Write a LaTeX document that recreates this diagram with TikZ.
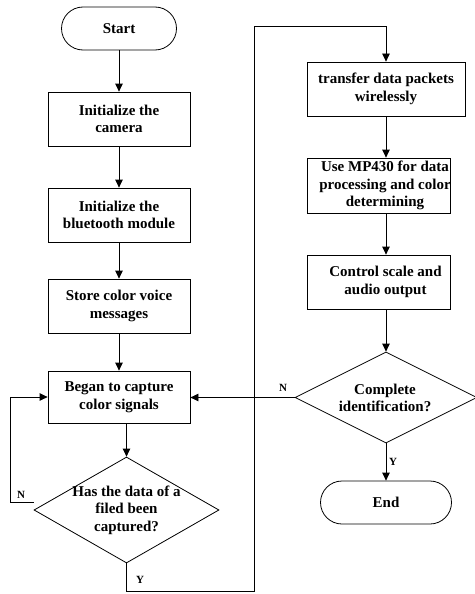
\documentclass[tikz,border=0pt]{standalone}
\usepackage{fontspec}
\setmainfont{Liberation Serif}
\usetikzlibrary{arrows.meta,shapes.geometric}

\tikzset{
  base/.style={draw=black, line width=0.8pt},
  txt/.style={font=\bfseries\fontsize{15}{17.5}\selectfont, align=center, inner sep=0pt},
  procbox/.style={base, rectangle, inner sep=0pt, minimum height=54pt, minimum width=142pt},
  term/.style={base, rectangle, rounded corners=21.5pt, inner sep=0pt, minimum height=43pt},
  decide/.style={base, diamond, inner sep=0pt},
  arr/.style={line width=0.8pt, -{Triangle[length=8pt,width=7.5pt]}},
  link/.style={line width=0.8pt},
  yn/.style={font=\bfseries\fontsize{11}{12}\selectfont, inner sep=0pt}
}

\begin{document}
\begin{tikzpicture}[x=1pt, y=-1pt]
\useasboundingbox (0,0) rectangle (474,594);

% left column
\node[term, minimum width=115pt] (start) at (119,28.5) {};
\node[txt] (startt) at (start.center) {Start};
\node[procbox] (cam) at (119,119) {};
\node[txt] (camt) at (cam.center) {Initialize the\\camera};
\node[procbox] (bt) at (119,215) {};
\node[txt] (btt) at (bt.center) {Initialize the\\bluetooth module};
\node[procbox] (store) at (119,306) {};
\node[txt] (storet) at (store.center) {Store color voice\\messages};
\node[procbox, minimum height=52pt] (cap) at (119,397) {};
\node[txt] (capt) at (cap.center) {Began to capture\\color signals};
\node[decide, minimum width=185pt, minimum height=106pt] (d1) at (126.5,510) {};
\node[txt] (d1t) at (d1.center) {Has the data of a\\filed been\\captured?};

% right column
\node[procbox, minimum width=158pt] (tr) at (386,89) {};
\node[txt] (trt) at (tr.center) {transfer data packets\\wirelessly};
\node[procbox, minimum width=143pt, minimum height=55pt] (mp) at (378.5,185.5) {};
\node[txt] (mpt) at (385,185.5) {Use MP430 for data\\processing and color\\determining};
\node[procbox, minimum width=143pt] (ctl) at (378.5,282) {};
\node[txt] (ctlt) at (385.5,282) {Control scale and\\audio output};
\node[decide, minimum width=182pt, minimum height=91pt] (d2) at (386,397.5) {};
\node[txt] (d2t) at (385,398) {Complete\\identification?};
\node[term, minimum width=131pt] (end) at (386,502.5) {};
\node[txt] (endt) at (end.center) {End};

% routing points
\coordinate (nl) at (10,502);
\coordinate (yb) at (254,591);
\coordinate (yt) at (254,26);

% main flow
\draw[arr] (start.south) -- (cam.north);
\draw[arr] (cam.south) -- (bt.north);
\draw[arr] (bt.south) -- (store.north);
\draw[arr] (store.south) -- (cap.north);
\draw[arr] (cap.south -| d1.north) -- (d1.north);
\draw[arr] ([yshift=8pt]d1.west) -- (nl) -- (nl |- cap.west) -- (cap.west);
\draw[link] (d1.south) |- (yb) -- (yt);
\draw[arr] (yt) -| (tr.north);
\draw[arr] (tr.south) -- (tr.south |- mp.north);
\draw[arr] (mp.south -| d2.north) -- (ctl.north -| d2.north);
\draw[arr] (ctl.south -| d2.north) -- (d2.north);
\draw[arr] (d2.west) -- (d2.west -| cap.east);
\draw[arr] (d2.south) -- (end.north);

% branch labels
\node[yn] (n1) at (21,495) {N};
\node[yn] (y1) at (140,580) {Y};
\node[yn] (n2) at (283,388) {N};
\node[yn] (y2) at (393,462) {Y};
\end{tikzpicture}
\end{document}
